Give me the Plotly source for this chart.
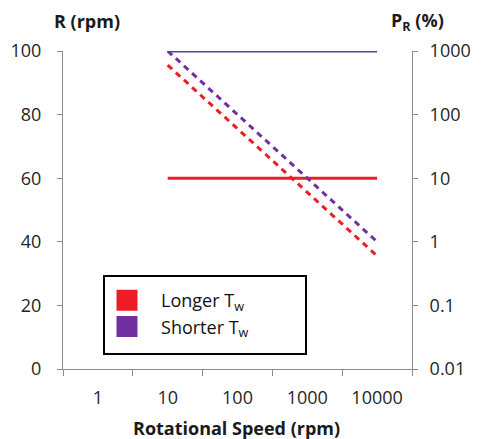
import plotly.graph_objects as go

categories = ["1", "10", "100", "1000", "10000"]
speeds = ["10", "100", "1000", "10000"]
r_longer = [60, 60, 60, 60]
r_shorter = [100, 100, 100, 100]
p_longer = [600, 60, 6, 0.6]
p_shorter = [1000, 100, 10, 1]
left_ticks = [0, 20, 40, 60, 80, 100]
right_ticks = [0.01, 0.1, 1, 10, 100, 1000]
right_labels = ["0.01", "0.1", "1", "10", "100", "1000"]

RED = "#EE1C25"
PURPLE = "#7030A0"
FONT = "'Open Sans', Lato, sans-serif"
TXT = "#262626"
AX = "#8c8c8c"

# plot area on screen (page has an 8px body offset)
OFF = 8
X0, X1, Y0, Y1 = 63, 412, 51, 369
W, H = 482, 439
pw, ph = X1 - X0, Y1 - Y0

def px(x):
    return (x - X0) / pw

def py(y):
    return (Y1 - y) / ph

fig = go.Figure()
fig.add_trace(go.Scatter(x=speeds, y=r_longer, mode="lines", line=dict(color=RED, width=3), showlegend=False))
fig.add_trace(go.Scatter(x=speeds, y=r_shorter, mode="lines", line=dict(color=PURPLE, width=3), showlegend=False))
fig.add_trace(go.Scatter(x=speeds, y=p_longer, yaxis="y2", mode="lines",
                         line=dict(color=RED, width=3, dash="6px,5px"), showlegend=False))
fig.add_trace(go.Scatter(x=speeds, y=p_shorter, yaxis="y2", mode="lines",
                         line=dict(color=PURPLE, width=3, dash="6px,5px"), showlegend=False))
fig.add_trace(go.Scatter(x=[None], y=[None], mode="markers", name="&nbsp;&nbsp;&nbsp;Longer T<sub>w</sub>",
                         marker=dict(symbol="square", size=16, color=RED,
                                     line=dict(color=RED, width=5))))
fig.add_trace(go.Scatter(x=[None], y=[None], mode="markers", name="&nbsp;&nbsp;&nbsp;Shorter T<sub>w</sub>",
                         marker=dict(symbol="square", size=16, color=PURPLE,
                                     line=dict(color=PURPLE, width=5))))

fig.update_layout(
    width=W, height=H,
    margin=dict(l=X0 - OFF, r=W - X1 + OFF, t=Y0 - OFF, b=H - Y1 + OFF, autoexpand=False),
    paper_bgcolor="white", plot_bgcolor="white",
    font=dict(family=FONT, size=18, color=TXT),
    xaxis=dict(type="category", categoryorder="array", categoryarray=categories,
               range=[-0.5, 4.5], tickson="boundaries", ticks="outside", ticklen=6,
               tickcolor=AX, showline=True, linecolor=AX, linewidth=1,
               showgrid=False, zeroline=False, tickfont=dict(size=18, color=TXT),
               ticklabelstandoff=12, automargin=False),
    yaxis=dict(range=[0, 100], tickvals=left_ticks, ticks="outside", ticklen=5,
               tickcolor=AX, showline=True, linecolor=AX, showgrid=False,
               zeroline=False, tickfont=dict(size=18, color=TXT), ticklabelstandoff=12,
               automargin=False),
    yaxis2=dict(type="log", range=[-2, 3], overlaying="y", side="right",
                tickvals=right_ticks, ticktext=right_labels, ticks="outside", ticklen=5,
                tickcolor=AX, showline=True, linecolor=AX, showgrid=False,
                zeroline=False, tickfont=dict(size=18, color=TXT), ticklabelstandoff=8,
                automargin=False),
    legend=dict(x=px(107), y=py(282), xanchor="left", yanchor="top",
                borderwidth=0, bgcolor="rgba(0,0,0,0)",
                font=dict(size=18, color="#111"), itemsizing="trace",
                tracegroupgap=0),
    shapes=[dict(type="rect", xref="paper", yref="paper",
                 x0=px(104), x1=px(306), y0=py(354), y1=py(276),
                 line=dict(color="black", width=2), fillcolor="rgba(0,0,0,0)")],
    annotations=[
        dict(text="<b>R (rpm)</b>", x=px(87), y=py(21)),
        dict(text="<b>P<sub>R</sub> (%)</b>", x=px(417), y=py(21)),
        dict(text="<b>Rotational Speed (rpm)</b>", x=px(236), y=py(428)),
    ],
)
for a in fig.layout.annotations:
    a.xref = "paper"; a.yref = "paper"; a.showarrow = False
    a.xanchor = "center"; a.yanchor = "middle"
    a.font = dict(size=18, color="#1a1a1a")

fig.write_html("out.html")
